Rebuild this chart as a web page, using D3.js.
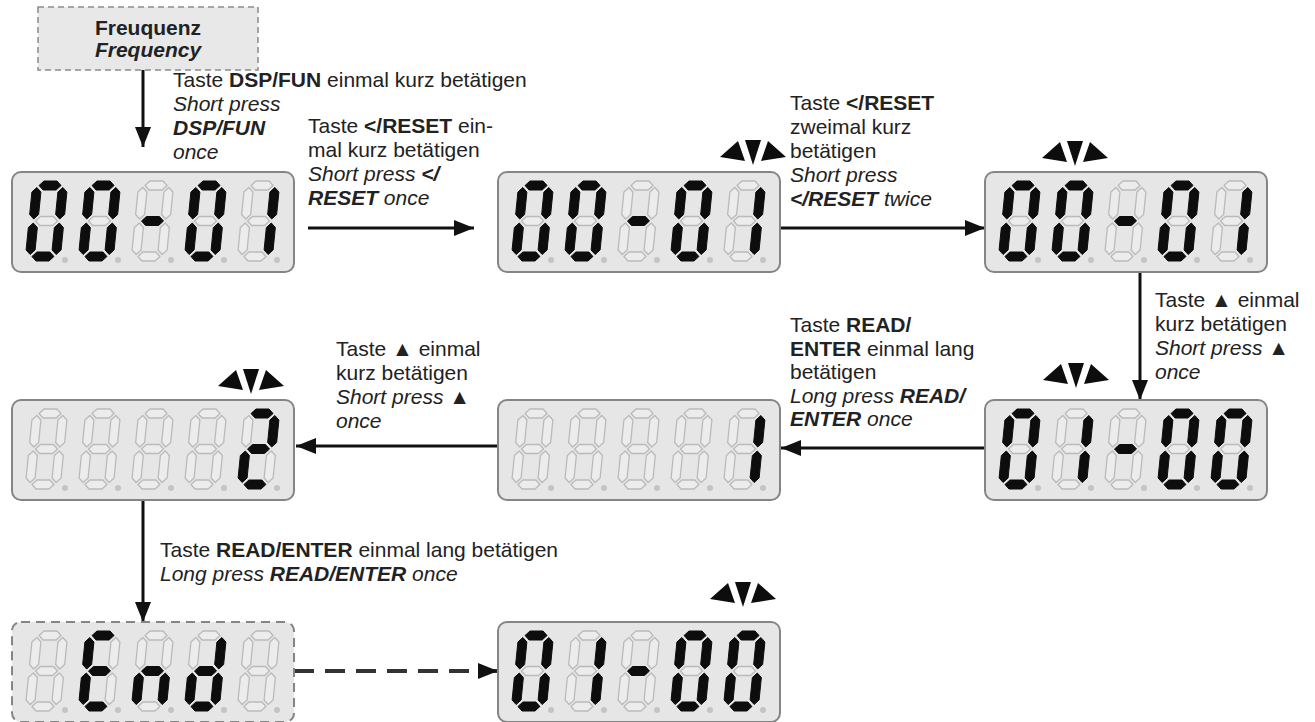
<!DOCTYPE html>
<html>
<head>
<meta charset="utf-8">
<script src="https://cdn.jsdelivr.net/npm/d3@7"></script>
<style>
  body { margin: 0; background: #fff; }
  svg text { font-family: "Liberation Sans", Arial, sans-serif; font-size: 21px; fill: #222; }
</style>
</head>
<body>
<div id="root"></div>
<script>
// display contents, in the order of the flow
const displayTexts = ['00-01', '00-01', '00-01', '01-00', '    1', '    2', ' End ', '01-00'];
const displayCols  = [0, 1, 2, 2, 1, 0, 0, 1];
const displayRows  = [0, 0, 0, 1, 1, 1, 2, 2];
const displayDashed = [false, false, false, false, false, false, true, false];
const displayBlink  = [false, true, true, true, false, true, false, true];
const blinkDx = [0, 222, 57, 58, 0, 206, 0, 212];
const blinkDy = [0, 7, 6, 12, 0, 6, 0, 15];

// text blocks: each line is a list of [text, style]  (n normal, b bold, i italic, bi bold italic)
const textA = [
  [['Taste ', 'n'], ['DSP/FUN', 'b'], [' einmal kurz betätigen', 'n']],
  [['Short press', 'i']],
  [['DSP/FUN', 'bi']],
  [['once', 'i']]
];
const textB = [
  [['Taste ', 'n'], ['</RESET', 'b'], [' ein-', 'n']],
  [['mal kurz betätigen', 'n']],
  [['Short press ', 'i'], ['</', 'bi']],
  [['RESET', 'bi'], [' once', 'i']]
];
const textC = [
  [['Taste ', 'n'], ['</RESET', 'b']],
  [['zweimal kurz', 'n']],
  [['betätigen', 'n']],
  [['Short press', 'i']],
  [['</RESET', 'bi'], [' twice', 'i']]
];
const textD = [
  [['Taste ▲ einmal', 'n']],
  [['kurz betätigen', 'n']],
  [['Short press ▲', 'i']],
  [['once', 'i']]
];
const textE = [
  [['Taste ', 'n'], ['READ/', 'b']],
  [['ENTER', 'b'], [' einmal lang', 'n']],
  [['betätigen', 'n']],
  [['Long press ', 'i'], ['READ/', 'bi']],
  [['ENTER', 'bi'], [' once', 'i']]
];
const textF = textD;
const textG = [
  [['Taste ', 'n'], ['READ/ENTER', 'b'], [' einmal lang betätigen', 'n']],
  [['Long press ', 'i'], ['READ/ENTER', 'bi'], [' once', 'i']]
];
const freqLines = [[['Freuquenz', 'b']], [['Frequency', 'bi']]];

const SEGS = { '0': 'abcdef', '1': 'bc', '2': 'abdeg', '-': 'g', 'E': 'adefg', 'n': 'ceg', 'd': 'bcdeg', ' ': '' };

const width = 1315, height = 722;
const svg = d3.select('#root').append('svg').attr('width', width).attr('height', height);

const colX = d3.scaleOrdinal().domain([0, 1, 2]).range([12, 498, 985]);
const rowY = d3.scaleOrdinal().domain([0, 1, 2]).range([172, 400, 622]);
const boxW = 282, boxH = 100;

// arrow head
const defs = svg.append('defs');
defs.append('marker')
  .attr('id', 'head')
  .attr('markerUnits', 'userSpaceOnUse')
  .attr('viewBox', '0 0 20 16')
  .attr('refX', 20).attr('refY', 8)
  .attr('markerWidth', 20).attr('markerHeight', 16)
  .attr('orient', 'auto')
  .append('path').attr('d', 'M0,0 L20,8 L0,16 Z').attr('fill', '#111');

// 7 segment geometry
const W = 35, H = 80, T = 9, K = 0.1, PITCH = 53;
function hseg(x1, x2, y) {
  const h = T / 2;
  return [[x1, y], [x1 + h, y - h], [x2 - h, y - h], [x2, y], [x2 - h, y + h], [x1 + h, y + h]];
}
function vseg(y1, y2, x) {
  const h = T / 2;
  return [[x, y1], [x + h, y1 + h], [x + h, y2 - h], [x, y2], [x - h, y2 - h], [x - h, y1 + h]];
}
function segPoints(name) {
  const l = T / 2, r = W - T / 2, t = T / 2, m = H / 2, b = H - T / 2, g = 2;
  const shapes = {
    a: hseg(l + g, r - g, t), b: vseg(t + g, m - g, r), c: vseg(m + g, b - g, r),
    d: hseg(l + g, r - g, b), e: vseg(m + g, b - g, l), f: vseg(t + g, m - g, l),
    g: hseg(l + g, r - g, m)
  };
  return shapes[name].map(p => [p[0] + (H - p[1]) * K, p[1]]);
}
const line = d3.line().curve(d3.curveLinearClosed);

// arrows (under the boxes)
const arrows = [
  [[143, 70], [143, 147]],
  [[308, 228], [474, 228]],
  [[780, 228], [985, 228]],
  [[1140, 272], [1140, 400]],
  [[985, 448], [781, 448]],
  [[498, 446], [296, 446]],
  [[143, 500], [143, 622]]
];
svg.selectAll('line.arrow')
  .data(arrows)
  .enter()
  .append('line')
  .attr('class', 'arrow')
  .attr('x1', d => d[0][0]).attr('y1', d => d[0][1])
  .attr('x2', d => d[1][0]).attr('y2', d => d[1][1])
  .attr('stroke', '#111').attr('stroke-width', 3)
  .attr('marker-end', 'url(#head)');

svg.append('line')
  .attr('x1', 294).attr('y1', 671).attr('x2', 498).attr('y2', 671)
  .attr('stroke', '#333').attr('stroke-width', 4)
  .attr('stroke-dasharray', '20,11')
  .attr('marker-end', 'url(#head)');

// frequency box
svg.append('rect')
  .attr('x', 38).attr('y', 7).attr('width', 220).attr('height', 63)
  .attr('fill', '#e8e8e8').attr('stroke', '#8a8a8a').attr('stroke-width', 1.5)
  .attr('stroke-dasharray', '6,4');

// displays
displayTexts.forEach((txt, k) => {
  const x0 = colX(displayCols[k]), y0 = rowY(displayRows[k]);
  const g = svg.append('g').attr('transform', `translate(${x0},${y0})`);
  g.append('rect')
    .attr('x', 0).attr('y', 0).attr('width', boxW).attr('height', boxH)
    .attr('rx', 9)
    .attr('fill', '#e6e6e6')
    .attr('stroke', '#858585')
    .attr('stroke-width', 2)
    .attr('stroke-dasharray', displayDashed[k] ? '9,6' : null);

  txt.split('').forEach((ch, i) => {
    const on = SEGS[ch] || '';
    const dg = g.append('g').attr('transform', `translate(${13 + i * PITCH},9)`);
    'abcdefg'.split('').forEach(s => {
      const active = on.includes(s);
      dg.append('path')
        .attr('d', line(segPoints(s)))
        .attr('fill', active ? '#0d0d0d' : '#ececec')
        .attr('stroke', active ? '#0d0d0d' : '#bababa')
        .attr('stroke-width', active ? 1 : 1.3)
        .attr('stroke-linejoin', 'round');
    });
    dg.append('circle')
      .attr('cx', W + 5).attr('cy', H - 1).attr('r', 3)
      .attr('fill', '#c4c4c4');
  });

  if (displayBlink[k]) {
    const bx = x0 + blinkDx[k], by = y0 - blinkDy[k] - 25;
    const bg = svg.append('g').attr('transform', `translate(${bx},${by})`);
    const tris = [
      [[0, 17], [18, 1], [25, 21]],
      [[25, 0], [41, 0], [33, 25]],
      [[66, 17], [48, 1], [41, 21]]
    ];
    bg.selectAll('path')
      .data(tris)
      .enter()
      .append('path')
      .attr('d', d => line(d))
      .attr('fill', '#0d0d0d');
  }
});

// text blocks
const styles = {
  n: { w: 'normal', s: 'normal' },
  b: { w: 'bold', s: 'normal' },
  i: { w: 'normal', s: 'italic' },
  bi: { w: 'bold', s: 'italic' }
};
function block(lines, x, y0, lh, anchor) {
  lines.forEach((ln, j) => {
    const t = svg.append('text')
      .attr('x', x).attr('y', y0 + j * lh)
      .attr('text-anchor', anchor || 'start');
    ln.forEach(([s, st]) => {
      t.append('tspan')
        .attr('font-weight', styles[st].w)
        .attr('font-style', styles[st].s)
        .text(s);
    });
  });
}
block(freqLines, 148, 35, 22, 'middle');
block(textA, 173, 87, 24);
block(textB, 308, 133, 24);
block(textC, 790, 110, 24);
block(textD, 1155, 307, 24);
block(textE, 790, 332, 23.5);
block(textF, 336, 356, 24);
block(textG, 160, 557, 24);
</script>
</body>
</html>
